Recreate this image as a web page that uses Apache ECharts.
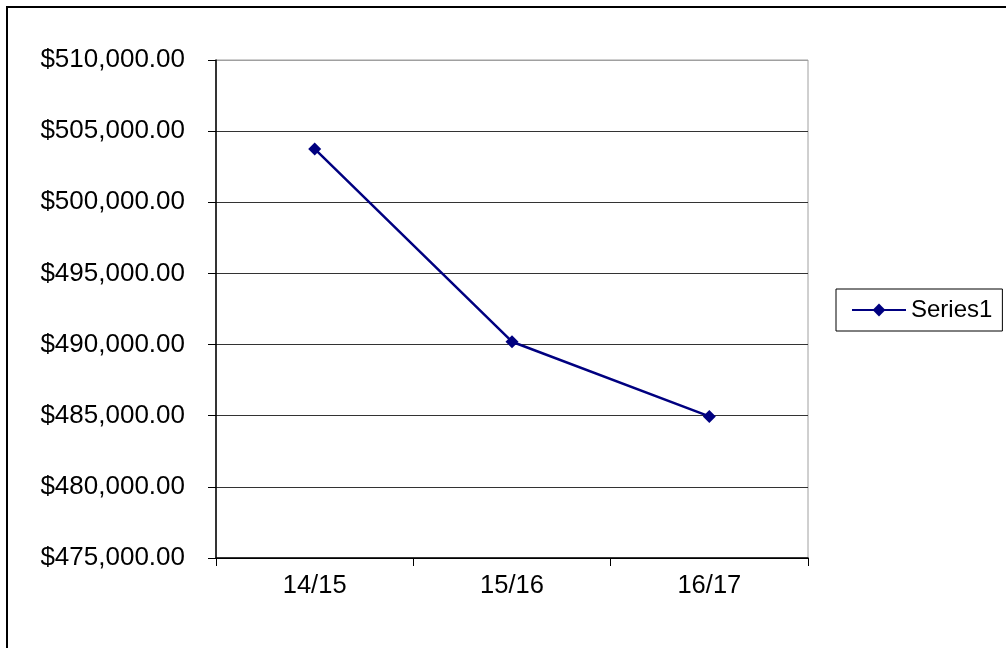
<!DOCTYPE html>
<html>
<head>
<meta charset="utf-8">
<script src="https://cdn.jsdelivr.net/npm/echarts@6/dist/echarts.min.js"></script>
<style>html,body{margin:0;padding:0;background:#fff;}#c{width:1006px;height:648px;}</style>
</head>
<body>
<div id="c"></div>
<script>
var categories = ['14/15', '15/16', '16/17'];
var series1 = [503750, 490200, 484950];
var yTicks = { min: 475000, max: 510000, interval: 5000 };

var chart = echarts.init(document.getElementById('c'));
function fmt(v) {
  return '$' + v.toLocaleString('en-US', { minimumFractionDigits: 2, maximumFractionDigits: 2 });
}
chart.setOption({
  animation: false,
  backgroundColor: '#fff',
  graphic: [{
    type: 'rect', silent: true, z: 100,
    shape: { x: 7, y: 7, width: 1100, height: 800 },
    style: { fill: 'none', stroke: '#000', lineWidth: 2 }
  }],
  grid: { left: 216, top: 60, width: 592, height: 498, show: true, borderColor: '#a0a0a0', borderWidth: 1, backgroundColor: 'transparent' },
  legend: {
    left: 836, top: 289, orient: 'vertical',
    padding: [9, 10, 9, 15],
    borderColor: '#000', borderWidth: 1,
    itemWidth: 54, itemHeight: 16, itemGap: 0,
    textStyle: { fontFamily: 'Liberation Sans, Arial, sans-serif', fontSize: 24, color: '#000' },
    data: ['Series1']
  },
  xAxis: {
    type: 'category', data: categories, boundaryGap: true,
    axisLine: { lineStyle: { color: '#000', width: 1.5 } },
    axisTick: { show: true, length: 8, inside: false, lineStyle: { color: '#000' } },
    axisLabel: { margin: 15, fontFamily: 'Liberation Sans, Arial, sans-serif', fontSize: 25.5, color: '#000' },
    splitLine: { show: false }
  },
  yAxis: {
    type: 'value', min: yTicks.min, max: yTicks.max, interval: yTicks.interval,
    axisLine: { show: true, lineStyle: { color: '#000', width: 1.5 } },
    axisTick: { show: true, length: 8, lineStyle: { color: '#000' } },
    axisLabel: { margin: 31, fontFamily: 'Liberation Sans, Arial, sans-serif', fontSize: 26, color: '#000', formatter: fmt },
    splitLine: { show: true, lineStyle: { color: ['#000', '#333', '#333', '#333', '#333', '#333', '#333', '#a0a0a0'], width: 1 } }
  },
  series: [{
    name: 'Series1', type: 'line', data: series1,
    symbol: 'diamond', symbolSize: 13,
    lineStyle: { color: '#000080', width: 2.5 },
    itemStyle: { color: '#000080' }
  }]
});
</script>
</body>
</html>
